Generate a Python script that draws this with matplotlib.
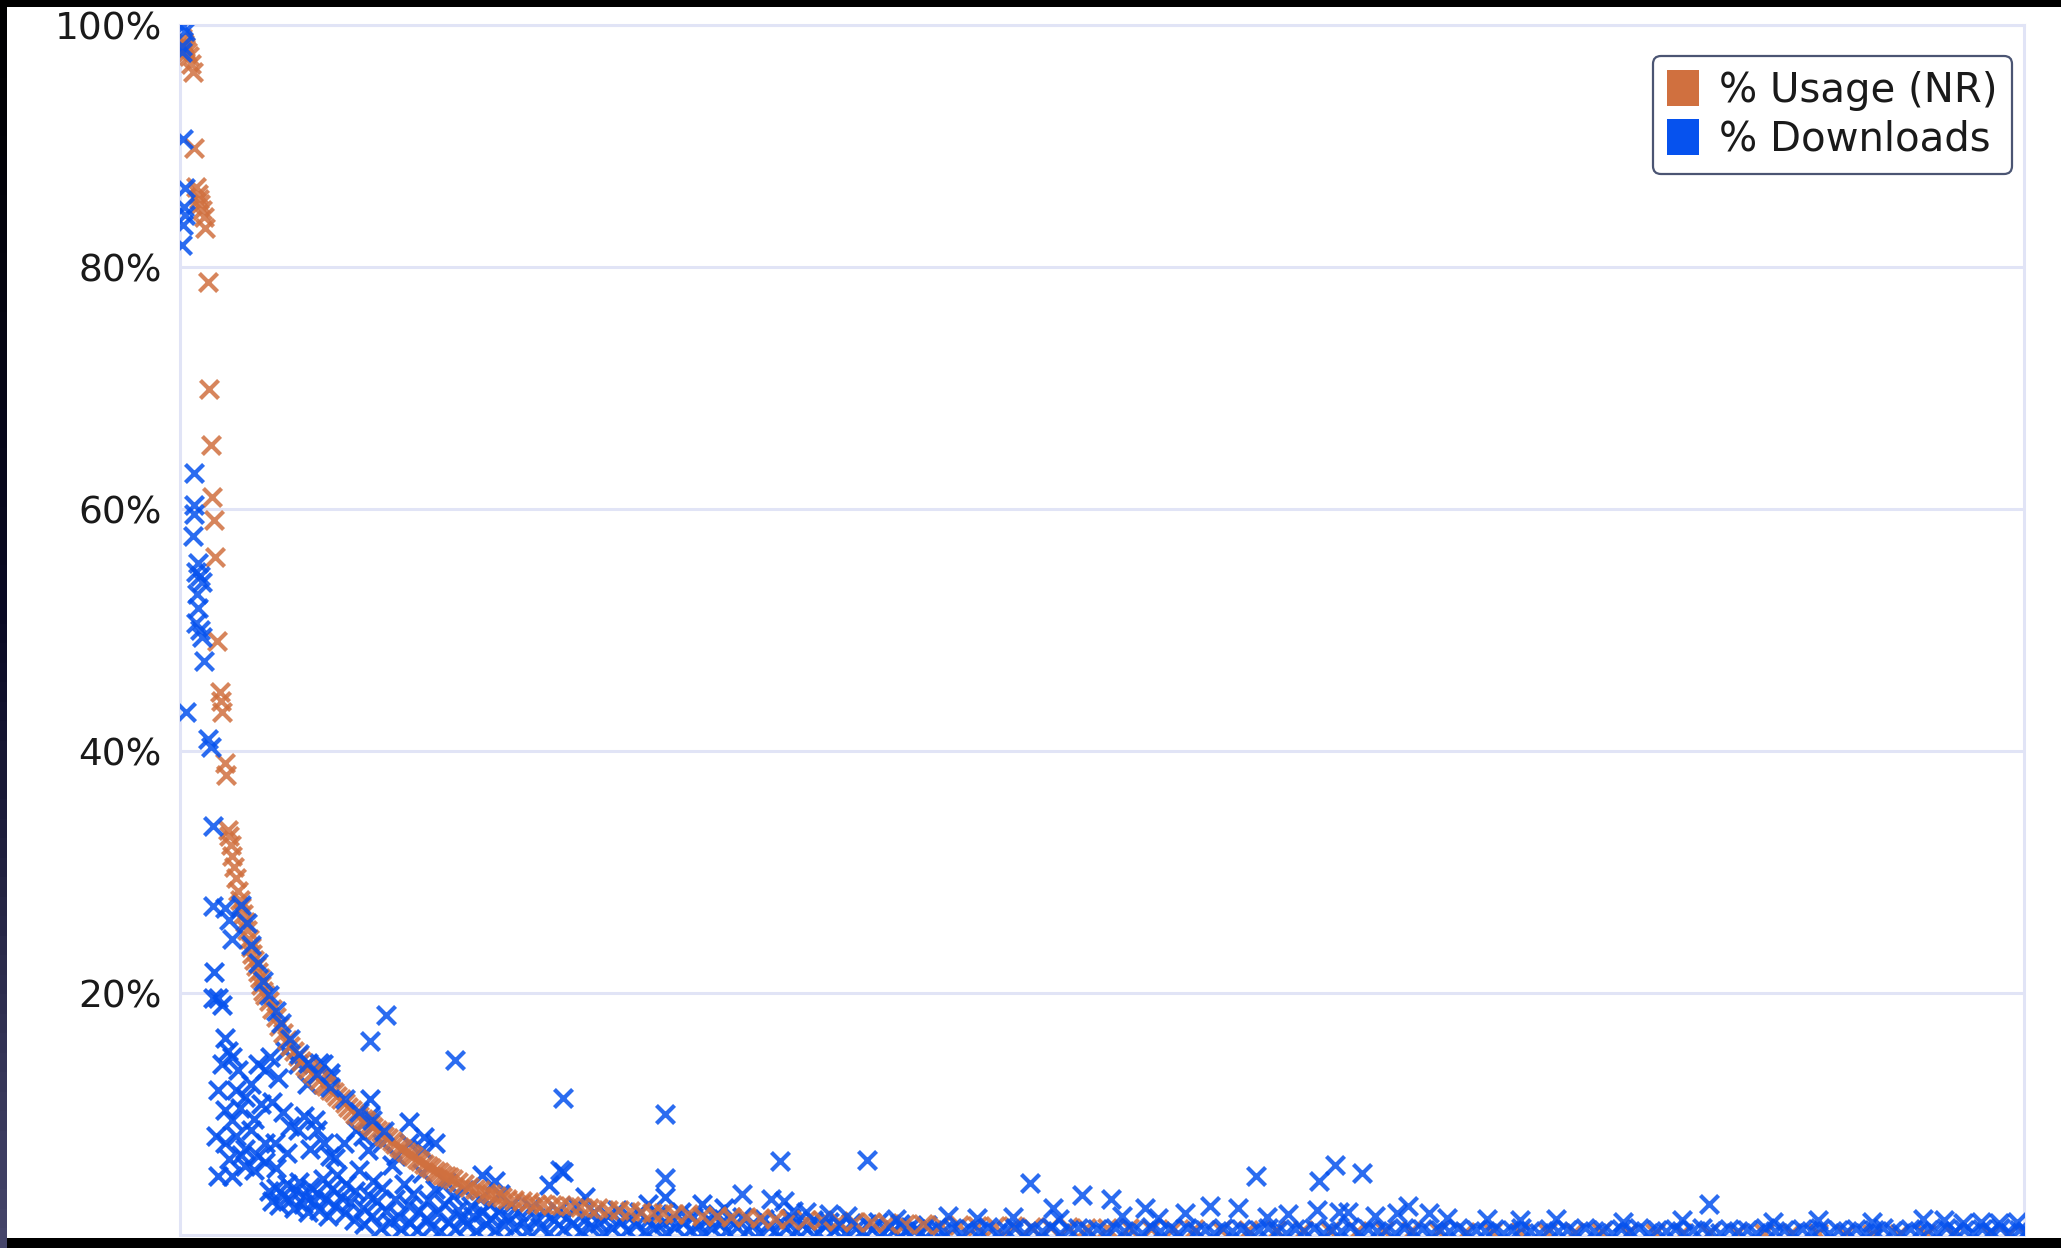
import numpy as np
import matplotlib.pyplot as plt
from matplotlib.patches import Patch, Rectangle
from matplotlib.colors import LinearSegmentedColormap

# % Usage (NR): (rank, percent), sorted by usage
usage = [
    (0, 98.9), (0.5, 98.6), (1, 98.4), (1.5, 98.2), (2, 98.0), (3, 97.8), (4, 97.4), (5, 96.8), (6, 96.1), (7, 89.8),
    (8, 86.6), (9, 86.0), (9.5, 85.6), (10, 85.2), (11, 84.7), (12, 84.1), (13, 83.2), (14.5, 78.8), (15.3, 69.9), (16, 65.3),
    (16.7, 61.0), (17.8, 59.1), (18.2, 56.0), (19.6, 49.1), (21, 44.9), (21.5, 44.1), (22, 43.2), (24, 39.0), (24.7, 38.0), (25.4, 33.5),
    (26, 33.0), (27, 32.2), (28, 31.3), (29, 30.4), (30, 29.5), (31, 28.4), (32, 27.7), (33, 27.1), (34, 26.5), (35, 25.9),
    (36, 25.2), (37, 24.5), (38, 23.8), (39, 23.2), (40, 22.7), (41, 22.2), (42, 21.7), (43, 21.2), (44, 20.7), (45, 20.2),
    (46, 19.8), (48, 19.3), (50, 18.7), (52, 18.0), (54, 17.3), (56, 16.7), (58, 16.1), (60, 15.6), (62, 15.2), (64, 14.8),
    (66, 14.4), (68, 14.0), (70, 13.7), (72, 13.4), (74, 13.1), (76, 12.8), (78, 12.5), (80, 12.3), (82, 12.0), (84, 11.8),
    (86, 11.5), (88, 11.2), (90, 10.9), (92, 10.6), (94, 10.3), (96, 10.0), (98, 9.8), (100, 9.6), (102, 9.4), (104, 9.2),
    (106, 8.9), (108, 8.7), (110, 8.5), (112, 8.2), (114, 8.0), (116, 7.8), (118, 7.5), (120, 7.3), (122, 7.1), (124, 6.9),
    (126, 6.7), (128, 6.5), (130, 6.3), (132, 6.1), (134, 5.9), (136, 5.7), (138, 5.5), (140, 5.3), (142, 5.2), (144, 5.0),
    (146, 4.9), (148, 4.8), (150, 4.6), (153, 4.4), (156, 4.2), (159, 4.0), (162, 3.8), (165, 3.7), (168, 3.5), (171, 3.4),
    (174, 3.2), (177, 3.1), (180, 3.0), (184, 2.9), (188, 2.8), (192, 2.7), (196, 2.6), (200, 2.55), (205, 2.5), (210, 2.45),
    (215, 2.4), (220, 2.3), (225, 2.25), (230, 2.2), (236, 2.1), (242, 2.05), (248, 2.0), (254, 1.9), (260, 1.85), (266, 1.8),
    (272, 1.75), (280, 1.7), (288, 1.6), (296, 1.55), (304, 1.5), (312, 1.45), (320, 1.4), (328, 1.35), (336, 1.3), (345, 1.25),
    (354, 1.2), (363, 1.15), (372, 1.1), (381, 1.05), (390, 1.0), (400, 0.95), (410, 0.9), (420, 0.86), (430, 0.82), (440, 0.78),
    (450, 0.75), (460, 0.72), (470, 0.69), (480, 0.66), (490, 0.63), (500, 0.6), (512, 0.57), (524, 0.54), (536, 0.52), (548, 0.5),
    (560, 0.48), (575, 0.45), (590, 0.43), (605, 0.41), (620, 0.39), (635, 0.37), (650, 0.35), (665, 0.33), (680, 0.31), (695, 0.3),
    (710, 0.28), (725, 0.27), (740, 0.25), (755, 0.24), (770, 0.23), (785, 0.21), (800, 0.2), (815, 0.19), (830, 0.18), (845, 0.17),
    (860, 0.16), (875, 0.15), (890, 0.14), (905, 0.13), (920, 0.12), (935, 0.11), (950, 0.1), (965, 0.09), (980, 0.08), (1000, 0.07),
    (1010, 0.06), (1020, 0.05),
]

# % Downloads, same ranks
dl_head = [
    (0.5, 99.9), (1.5, 99.5), (0, 98.3), (0, 97.8), (0.5, 90.6), (1.5, 86.5), (1, 85.0), (2, 84.3), (0.5, 83.5), (0, 81.8),
    (2.2, 43.2), (6.5, 63.0), (7, 60.3), (6.5, 59.6), (6, 57.8), (9, 55.5), (8, 54.8), (10, 54.5), (11, 54.0), (8.5, 53.0),
    (9, 51.8), (8, 50.6), (10, 50.0), (11, 49.4), (12.5, 47.4), (14.5, 41.0), (16, 40.3), (17, 33.8), (17.5, 27.2), (24, 27.0),
    (26, 26.0), (28, 24.5),
]
dl_curve = [
    (33, 27.3), (36, 25.8), (38, 24.0), (42, 22.5), (45, 21.0), (48, 19.8), (52, 18.5), (55, 17.5), (60, 16.2),
    (65, 15.0), (70, 14.2), (75, 13.3), (82, 12.2), (90, 11.2), (98, 10.2), (105, 9.5), (112, 8.6),
]
dl_upper = [
    (18, 21.7), (17, 19.6), (20, 19.6), (22, 19.0), (24, 16.3), (25.5, 15.2), (22.5, 14.1), (27.5, 14.7), (31, 13.6), (30, 12.0),
    (20, 12.0), (24, 10.3), (35, 11.4), (38.5, 12.5), (42, 14.1), (46, 13.6), (49, 14.7), (53, 13.0), (57, 15.2), (64, 14.1),
    (69, 12.5), (78, 14.1), (82, 13.0), (76, 14.2), (82, 13.4), (104, 11.2), (125.5, 9.3), (134, 8.1), (140, 7.6),
]
dl_mid = [
    (19, 8.2), (24, 7.6), (30, 8.2), (35, 7.1), (38.5, 8.7), (42, 6.5), (46, 7.6), (20, 4.9), (27.5, 4.9), (35, 5.7),
    (46, 6.0), (51.5, 7.6), (64, 8.7), (67.5, 9.8), (75, 8.7), (71, 7.1), (78.5, 7.6), (82, 6.5), (89.5, 7.6), (96.5, 8.7),
    (104, 9.8), (100, 8.2), (111, 7.6), (118.5, 6.5), (125.5, 7.6), (133, 7.1), (28, 9.5), (32, 10.5), (40, 9.6), (44, 10.8),
    (50, 11.0), (56, 10.2), (60, 9.0), (26, 6.3), (33, 6.6), (40, 5.4), (52, 5.5), (58, 6.8), (73.6, 9.5), (84.6, 6.4),
    (103, 7.0), (166, 5.0), (173, 4.5), (211, 5.2), (203, 4.1), (223, 3.1), (258, 2.6), (288, 2.6), (300, 2.2), (267, 3.1),
]
dl_low = [
    (48, 3.6), (50, 2.8), (52, 3.9), (54, 2.5), (56, 3.3), (58, 4.2), (60, 2.9), (62, 2.2), (63, 3.7), (65, 4.4),
    (67, 2.6), (68, 3.2), (70, 1.9), (71, 4.0), (73, 2.8), (75, 3.5), (76, 2.1), (78, 4.6), (80, 3.0), (81, 1.6),
    (83, 3.8), (85, 2.4), (86, 5.0), (88, 3.1), (90, 1.8), (91, 4.2), (93, 2.7), (95, 1.2), (96, 3.6), (98, 5.4),
    (100, 2.2), (101, 0.9), (103, 3.3), (105, 1.6), (106, 4.5), (108, 2.8), (110, 0.6), (111, 3.9), (113, 2.0), (115, 1.1),
    (116, 5.8), (118, 3.0), (120, 1.5), (121, 0.5), (123, 4.2), (125, 2.5), (126, 1.0), (128, 3.4), (130, 0.4), (131, 2.0),
    (133, 5.1), (135, 1.3), (136, 2.9), (138, 0.7), (140, 3.8), (141, 1.8), (143, 0.3), (145, 2.6), (146, 4.4), (148, 1.1),
    (150, 3.2), (151, 0.5), (153, 2.1), (155, 1.4), (156, 3.7), (158, 0.8), (160, 2.4), (161, 1.6), (163, 0.3), (165, 3.0),
    (166, 1.9), (168, 0.9), (170, 2.6), (171, 1.3), (173, 0.4), (175, 2.0), (176, 3.4), (178, 0.8), (180, 1.6), (182, 2.5),
]
dl_band = [
    (184, 0.6), (186, 1.9), (189, 1.1), (191, 0.3), (193, 2.3), (196, 1.4), (198, 0.7), (201, 1.8), (203, 0.2), (206, 1.2),
    (208, 2.0), (211, 0.5), (213, 1.5), (216, 0.9), (218, 2.4), (221, 0.3), (223, 1.3), (226, 0.7), (228, 1.9), (231, 1.0),
    (233, 0.2), (236, 1.6), (238, 0.6), (241, 2.1), (243, 1.1), (246, 0.4), (248, 1.5), (251, 0.8), (253, 1.9), (256, 0.3),
    (258, 1.2), (261, 0.6), (263, 1.7), (266, 1.0), (268, 0.2), (271, 1.4), (273, 0.7), (276, 1.9), (278, 1.1), (281, 0.4),
    (283, 1.5), (286, 0.8), (288, 0.2), (291, 1.3), (293, 0.6), (296, 1.7), (298, 1.0), (301, 0.3), (304, 1.2), (307, 0.7),
    (310, 1.5), (313, 0.4), (316, 1.0), (319, 0.2), (322, 1.3), (325, 0.7), (328, 0.3), (331, 1.1), (334, 0.6), (337, 1.4),
    (340, 0.3), (343, 0.9), (346, 0.5), (349, 1.2), (352, 0.2), (355, 0.8), (358, 1.1), (361, 0.4), (364, 0.9), (367, 0.2),
    (370, 1.0), (373, 0.6), (376, 0.3), (379, 0.9), (382, 0.5), (385, 1.1), (388, 0.2), (391, 0.7), (394, 0.4), (397, 0.9),
    (400, 0.3), (403, 0.7), (406, 0.5), (409, 0.2), (412, 0.8), (415, 0.4), (418, 0.6),
]
dl_tail = [
    (421, 0.3), (426, 0.6), (431, 0.2), (436, 0.5), (441, 0.3), (446, 0.7), (451, 0.2), (456, 0.4), (461, 0.6), (466, 0.2),
    (471, 0.5), (476, 0.3), (481, 0.7), (486, 0.2), (491, 0.4), (496, 0.6), (501, 0.3), (506, 0.5), (511, 0.2), (516, 0.6),
    (521, 0.3), (526, 0.4), (531, 0.2), (536, 0.7), (541, 0.3), (546, 0.5), (551, 0.2), (556, 0.6), (561, 0.3), (566, 0.4),
    (571, 0.2), (576, 0.6), (581, 0.3), (586, 0.5), (591, 0.2), (596, 0.4), (601, 0.6), (606, 0.3), (611, 0.2), (616, 0.5),
    (621, 0.3), (626, 0.6), (631, 0.2), (636, 0.4), (641, 0.3), (646, 0.7), (651, 0.2), (656, 0.5), (661, 0.3), (666, 0.4),
    (671, 0.2), (676, 0.6), (681, 0.3), (686, 0.5), (691, 0.2), (696, 0.4), (701, 0.3), (706, 0.6), (711, 0.2), (716, 0.4),
    (721, 0.3), (726, 0.5), (731, 0.2), (736, 0.4), (741, 0.6), (746, 0.3), (751, 0.2), (756, 0.5), (761, 0.3), (766, 0.4),
    (771, 0.2), (776, 0.6), (781, 0.3), (786, 0.4), (791, 0.2), (796, 0.5), (801, 0.3), (806, 0.6), (811, 0.2), (816, 0.4),
    (821, 0.3), (826, 0.5), (831, 0.2), (836, 0.4), (841, 0.6), (846, 0.3), (851, 0.2), (856, 0.5), (861, 0.3), (866, 0.4),
    (871, 0.2), (876, 0.6), (881, 0.3), (886, 0.4), (891, 0.2), (896, 0.5), (901, 0.3), (906, 0.6), (911, 0.2), (916, 0.4),
    (921, 0.3), (926, 0.5), (931, 0.2), (936, 0.4), (941, 0.6), (946, 0.3), (951, 0.2), (956, 0.5), (961, 0.3), (966, 0.4),
    (971, 0.2), (976, 0.6), (981, 0.3), (986, 0.4), (991, 0.2), (996, 0.5), (1001, 0.3), (1006, 0.6), (1011, 0.2), (1016, 0.4),
    (1020, 0.3),
]
dl_outliers = [
    (104, 16.0), (113, 18.2), (151, 14.5), (211, 11.3), (267, 10.0), (209, 5.4), (267, 4.7), (331, 6.1), (379, 6.2), (469, 4.3),
    (594, 4.9), (638, 5.8), (629, 4.5), (653, 5.1), (845, 2.6), (678, 2.4), (569, 2.4), (584, 2.2), (498, 3.3), (514, 3.0),
    (482, 2.2), (424, 1.6), (963, 1.3), (797, 1.1), (722, 1.3), (533, 2.2), (310, 3.4), (326, 3.0), (333, 2.8), (338, 2.0),
    (345, 1.9), (358, 1.7), (368, 1.6), (395, 1.3), (440, 1.4), (460, 1.5), (485, 1.3), (520, 1.6), (540, 1.4), (555, 1.8),
    (600, 1.5), (612, 1.7), (640, 1.9), (660, 1.6), (672, 1.8), (700, 1.4), (740, 1.2), (760, 1.3), (830, 1.2), (880, 1.1),
    (905, 1.2), (935, 1.1), (975, 1.2), (985, 1.0), (995, 1.1), (628, 2.1), (645, 1.9), (690, 1.8), (1005, 1.0), (1015, 1.1),
]

ticks = [20, 40, 60, 80, 100]
tick_labels = ['20%', '40%', '60%', '80%', '100%']
labels = ['% Usage (NR)', '% Downloads']
c_usage = '#D0703F'
c_dl = '#0652EE'
grid_c = '#E1E4F6'

W, H = 2061, 1248
fig = plt.figure(figsize=(W / 100, H / 100), dpi=100)
fig.patch.set_facecolor('black')
bg = Rectangle((7 / W, 10 / H), 1 - 7 / W, (H - 17) / H, transform=fig.transFigure,
               facecolor='white', edgecolor='none', zorder=-5)
fig.add_artist(bg)

# dark slate strip at the left edge, black at top
strip = fig.add_axes([0, 0, 7 / W, 1])
strip.imshow(np.linspace(0, 1, 64).reshape(-1, 1), aspect='auto',
             cmap=LinearSegmentedColormap.from_list('s', ['#000000', '#0a0a24', '#45456a']))
strip.set_axis_off()

ax = fig.add_axes([180 / W, 13 / H, 1844 / W, 1210 / H])
ax.set_facecolor('white')

ux = [p[0] for p in usage]
uy = [p[1] for p in usage]
dl_under = dl_upper + dl_mid + dl_low + dl_band
dl_over = dl_head + dl_curve + dl_tail + dl_outliers

mk = dict(marker='x', s=170, linewidths=3.0)
# blue clusters under the orange curve, the rest over it
ax.scatter([p[0] for p in dl_under], [p[1] for p in dl_under], color=c_dl, alpha=0.9, zorder=3, **mk)
ax.scatter(ux, uy, color=c_usage, alpha=0.85, zorder=4, **mk)
ax.scatter([p[0] for p in dl_over], [p[1] for p in dl_over], color=c_dl, alpha=0.85, zorder=5, **mk)

ax.set_xlim(-1, 1019)
ax.set_ylim(0, 100)
ax.set_xticks([])
ax.set_yticks(ticks)
ax.set_yticklabels(tick_labels, fontsize=27, color='#1a1a1a')
ax.tick_params(axis='y', length=0, pad=13)
ax.yaxis.grid(True, color=grid_c, lw=2.2)
ax.set_axisbelow(True)
for sp in ax.spines.values():
    sp.set_color(grid_c)
    sp.set_linewidth(2.2)

handles = [Patch(facecolor=c_usage, edgecolor='none'), Patch(facecolor=c_dl, edgecolor='none')]
leg = ax.legend(handles, labels, loc='upper right', bbox_to_anchor=(2012 / W, 1 - 56 / H),
                bbox_transform=fig.transFigure, borderaxespad=0, fontsize=29,
                handlelength=0.8, handleheight=1.0, handletextpad=0.5, labelspacing=0.2,
                borderpad=0.35, fancybox=True, framealpha=1, edgecolor='#4B5573')
leg.get_frame().set_linewidth(1.6)
leg.set_zorder(10)
for t in leg.get_texts():
    t.set_color('#1a1a1a')

fig.savefig('out.png', dpi=100, facecolor=fig.get_facecolor())
